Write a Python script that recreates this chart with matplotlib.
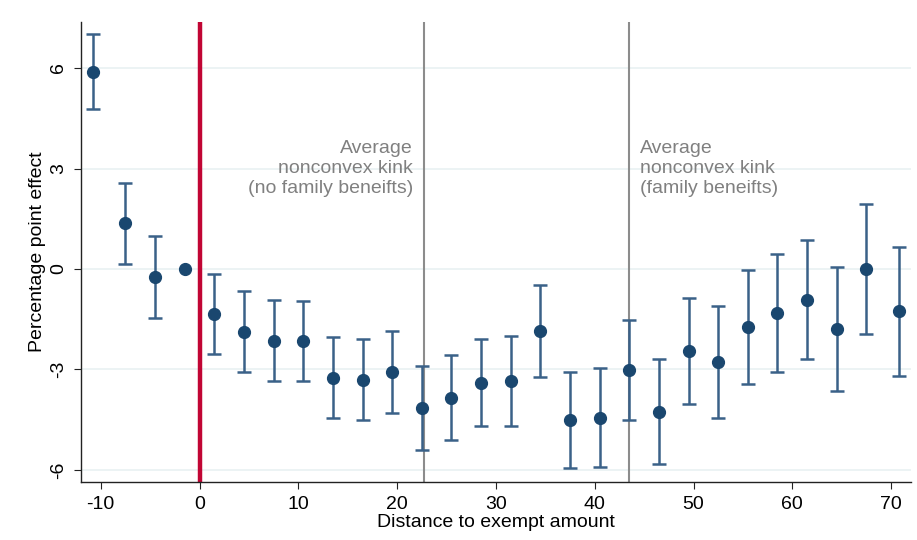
import matplotlib
matplotlib.use("Agg")
import matplotlib.pyplot as plt
import numpy as np

plt.rcParams['font.family'] = ['Liberation Sans', 'DejaVu Sans']
plt.rcParams['axes.unicode_minus'] = False

# distance bins (midpoints) and estimates with 95% CI
dist = [-10.8, -7.5, -4.5, -1.5, 1.5, 4.5, 7.5, 10.5, 13.5, 16.5, 19.5, 22.5,
        25.5, 28.5, 31.5, 34.5, 37.5, 40.5, 43.5, 46.5, 49.5, 52.5, 55.5,
        58.5, 61.5, 64.5, 67.5, 70.85]
effect = [5.89, 1.36, -0.24, 0.0, -1.34, -1.87, -2.14, -2.15, -3.24, -3.30,
          -3.07, -4.16, -3.84, -3.39, -3.34, -1.86, -4.52, -4.44, -3.01, -4.26,
          -2.46, -2.79, -1.74, -1.31, -0.92, -1.80, 0.0, -1.26]
ci_hi = [7.01, 2.58, 0.98, 0.0, -0.14, -0.66, -0.93, -0.96, -2.04, -2.09,
         -1.84, -2.90, -2.56, -2.09, -2.00, -0.48, -3.08, -2.96, -1.51, -2.69,
         -0.88, -1.10, -0.04, 0.44, 0.86, 0.05, 1.94, 0.67]
ci_lo = [4.78, 0.14, -1.45, 0.0, -2.54, -3.07, -3.33, -3.35, -4.44, -4.52,
         -4.29, -5.40, -5.12, -4.69, -4.69, -3.22, -5.95, -5.91, -4.52, -5.81,
         -4.03, -4.45, -3.43, -3.07, -2.68, -3.63, -1.95, -3.19]

kink_nofam = 22.75
kink_fam = 43.5

navy = '#1a476f'
fs = 14

fig = plt.figure(figsize=(9.17, 5.40), dpi=100)
ax = fig.add_axes([0.0883, 0.108, 0.905, 0.851])

ax.set_xlim(-12, 72)
ax.set_ylim(-6.35, 7.37)

yt = [-6, -3, 0, 3, 6]
ax.set_yticks(yt)
ax.set_yticklabels([str(v) for v in yt], rotation=90, va='center')
ax.set_xticks(np.arange(-10, 71, 10))
for v in yt:
    ax.axhline(v, color='#eaf2f3', lw=1.3, zorder=0)

ax.axvline(0, color='#c10534', lw=3.2, zorder=2)
ax.axvline(kink_nofam, color='#8c8c8c', lw=1.5, zorder=1)
ax.axvline(kink_fam, color='#8c8c8c', lw=1.5, zorder=1)

eff = np.array(effect)
hi = np.array(ci_hi)
lo = np.array(ci_lo)
d = np.array(dist)
has_ci = hi != lo
ax.errorbar(d[has_ci], eff[has_ci], yerr=[eff[has_ci] - lo[has_ci], hi[has_ci] - eff[has_ci]],
            fmt='none', ecolor='#3a6188', elinewidth=1.8, capsize=5, capthick=1.8, zorder=3)
ax.plot(d, eff, 'o', color=navy, markersize=8.5, zorder=4)

ax.text(21.6, 3, 'Average\nnonconvex kink\n(no family beneifts)', ha='right', va='center',
        color='#808080', fontsize=fs, linespacing=1.25)
ax.text(44.6, 3, 'Average\nnonconvex kink\n(family beneifts)', ha='left', va='center',
        color='#808080', fontsize=fs, linespacing=1.25)

for s in ['top', 'right']:
    ax.spines[s].set_visible(False)
for s in ['left', 'bottom']:
    ax.spines[s].set_color('#222222')
    ax.spines[s].set_linewidth(1.0)
ax.tick_params(axis='both', labelsize=fs, length=5, color='#222222', pad=5)

ax.set_xlabel('Distance to exempt amount', fontsize=fs, labelpad=1)
ax.set_ylabel('Percentage point effect', fontsize=fs, labelpad=3)

fig.savefig('out.png', dpi=100)
